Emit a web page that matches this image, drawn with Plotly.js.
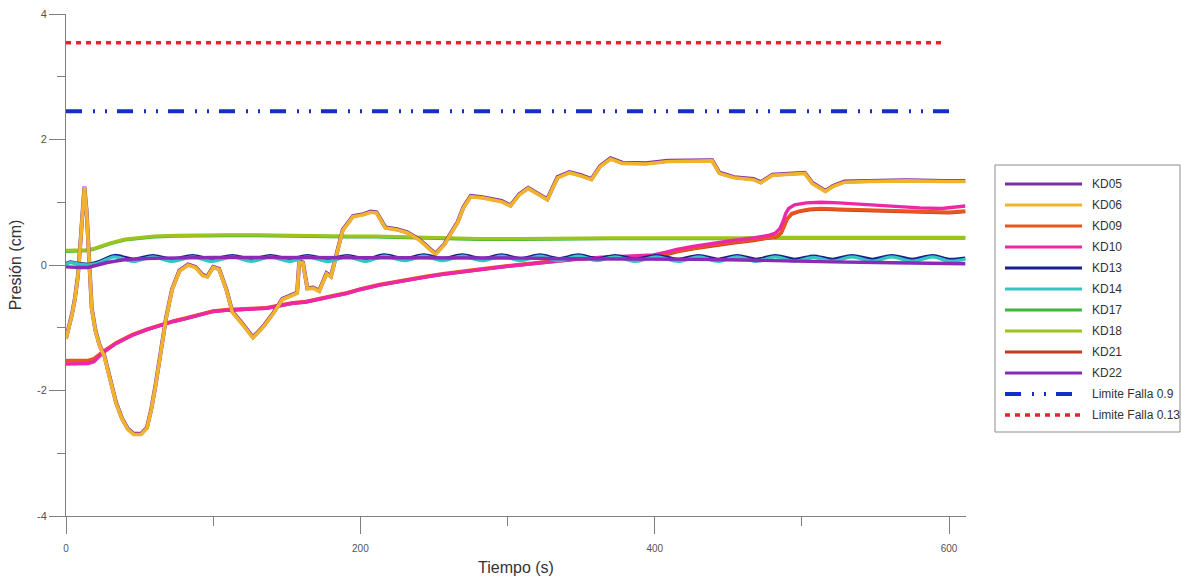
<!DOCTYPE html>
<html>
<head>
<meta charset="utf-8">
<script src="https://cdn.plot.ly/plotly-3.0.1.min.js"></script>
<style>
html,body{margin:0;padding:0;background:#fff;}
#chart{width:1182px;height:577px;}
</style>
</head>
<body>
<div id="chart"></div>
<script>
// ---------------- DATA ----------------
const seriesNames = ["KD05","KD06","KD09","KD10","KD13","KD14","KD17","KD18","KD21","KD22","Limite Falla 0.9","Limite Falla 0.13"];

// KD06 (and KD05, which runs just under it)
const t06 = [0,2,4,6,8,9.5,11,12.5,14,15.5,17.5,20,23,26,30,34,38,42,46,51,55,58,61,64,68,72,77,83,88,93,96,100,104,109,113,119,127,134,141,147,154,157,158.5,161,164,168,172,177,180,184,188,195,202,207,211,217,225,232,240,251,257,261,266,270,275,283,290,296,302,308,314,321,327,334,342,350,357,363,370,378,394,409,425,439,444,454,467,472,480,490,502,507,516,521,529,545,571,597,611];
const kd06 = [-1.18,-1.0,-0.8,-0.55,-0.2,0.25,0.85,1.24,0.85,0.2,-0.7,-1.05,-1.3,-1.45,-1.85,-2.2,-2.45,-2.62,-2.7,-2.7,-2.6,-2.3,-1.9,-1.47,-0.85,-0.4,-0.1,0.0,-0.04,-0.17,-0.19,-0.04,-0.07,-0.4,-0.75,-0.92,-1.16,-0.99,-0.77,-0.55,-0.48,-0.45,0.05,0.03,-0.38,-0.37,-0.42,-0.14,-0.19,0.2,0.55,0.77,0.8,0.84,0.83,0.59,0.56,0.51,0.4,0.17,0.32,0.48,0.67,0.91,1.09,1.07,1.04,1.01,0.94,1.12,1.22,1.12,1.04,1.39,1.47,1.42,1.36,1.57,1.69,1.62,1.61,1.65,1.66,1.66,1.46,1.39,1.36,1.31,1.43,1.45,1.46,1.3,1.17,1.25,1.32,1.33,1.34,1.33,1.33];
const kd05 = [-1.17,-0.99,-0.79,-0.54,-0.19,0.26,0.86,1.25,0.86,0.21,-0.69,-1.04,-1.29,-1.44,-1.84,-2.19,-2.44,-2.61,-2.69,-2.69,-2.59,-2.29,-1.89,-1.46,-0.84,-0.39,-0.09,0.01,-0.03,-0.16,-0.18,-0.03,-0.06,-0.39,-0.74,-0.91,-1.15,-0.98,-0.76,-0.54,-0.47,-0.44,0.06,0.04,-0.37,-0.36,-0.41,-0.13,-0.18,0.21,0.56,0.78,0.81,0.85,0.84,0.6,0.57,0.52,0.41,0.18,0.33,0.49,0.68,0.92,1.1,1.08,1.05,1.02,0.95,1.13,1.23,1.13,1.05,1.4,1.48,1.43,1.37,1.58,1.7,1.63,1.62,1.66,1.67,1.67,1.47,1.4,1.37,1.32,1.44,1.46,1.47,1.31,1.18,1.26,1.33,1.34,1.35,1.34,1.34];

// KD10 (pink)
const t10 = [0,8,15,19,25,34,45,55,64,73,82,91,100,110,118,127,136,145,154,163,172,181,191,200,213,222,232,245,256,268,279,290,300,312,324,335,345,355,363,375,387,399,407,415,427,440,453,467,477,482,485,487,489,491,495,503,513,525,545,565,580,595,605,611];
const kd10 = [-1.58,-1.58,-1.57,-1.54,-1.4,-1.25,-1.12,-1.03,-0.96,-0.9,-0.85,-0.79,-0.74,-0.72,-0.71,-0.7,-0.69,-0.65,-0.61,-0.59,-0.55,-0.5,-0.45,-0.39,-0.32,-0.28,-0.24,-0.19,-0.15,-0.11,-0.08,-0.05,-0.02,0.01,0.04,0.07,0.09,0.11,0.12,0.13,0.14,0.16,0.2,0.25,0.3,0.35,0.39,0.43,0.47,0.51,0.58,0.68,0.82,0.9,0.96,0.99,1.0,0.99,0.96,0.93,0.91,0.9,0.92,0.94];

// KD09 (orange) and KD21 (dark red, under it)
const t09 = [0,15,19,25,34,45,55,64,73,82,91,100,110,118,127,136,145,154,163,172,181,191,200,213,222,232,245,256,268,279,290,300,312,324,335,345,355,363,375,387,399,407,415,427,440,453,467,477,483,486,488,490,493,498,505,513,525,545,565,585,600,611];
const kd09 = [-1.52,-1.52,-1.49,-1.38,-1.24,-1.11,-1.02,-0.95,-0.89,-0.84,-0.78,-0.73,-0.71,-0.7,-0.69,-0.68,-0.64,-0.6,-0.58,-0.54,-0.49,-0.44,-0.38,-0.31,-0.27,-0.23,-0.18,-0.14,-0.1,-0.07,-0.04,-0.01,0.02,0.05,0.08,0.1,0.11,0.12,0.12,0.13,0.14,0.17,0.22,0.27,0.32,0.36,0.4,0.43,0.46,0.52,0.62,0.74,0.82,0.86,0.89,0.9,0.89,0.88,0.86,0.85,0.84,0.86];
const kd21 = [-1.53,-1.53,-1.5,-1.39,-1.25,-1.12,-1.03,-0.96,-0.9,-0.85,-0.79,-0.74,-0.72,-0.71,-0.7,-0.69,-0.65,-0.61,-0.59,-0.55,-0.5,-0.45,-0.39,-0.32,-0.28,-0.24,-0.19,-0.15,-0.11,-0.08,-0.05,-0.02,0.01,0.04,0.07,0.09,0.1,0.11,0.11,0.12,0.13,0.16,0.21,0.26,0.31,0.35,0.39,0.42,0.45,0.51,0.61,0.73,0.81,0.85,0.88,0.89,0.88,0.87,0.85,0.84,0.83,0.85];

// KD18 (yellow-green) and KD17 (green, under it)
const t18 = [0,8,15,20,30,40,50,60,75,90,110,130,150,170,190,210,230,250,280,310,340,370,400,430,445,460,480,500,530,560,590,611];
const kd18 = [0.23,0.23,0.24,0.27,0.35,0.41,0.44,0.46,0.47,0.48,0.48,0.48,0.47,0.47,0.46,0.46,0.45,0.43,0.42,0.42,0.43,0.43,0.43,0.43,0.42,0.43,0.44,0.44,0.44,0.44,0.44,0.44];
const kd17 = [0.22,0.22,0.23,0.26,0.34,0.4,0.43,0.45,0.46,0.47,0.47,0.47,0.46,0.46,0.45,0.45,0.44,0.42,0.41,0.41,0.42,0.42,0.42,0.42,0.41,0.42,0.43,0.43,0.43,0.43,0.43,0.43];

// KD13 (navy) and KD14 (cyan), oscillating near 0.1
const t13 = [0,3,7,15,22,33,46,59,72,86,99,113,126,139,152,164,178,191,204,216,230,243,256,269,283,296,309,322,335,348,361,373,387,401,416,430,443,456,469,482,495,508,521,534,548,561,575,589,600,611];
const kd13 = [0.02,0.05,0.03,0.01,0.05,0.15,0.09,0.15,0.09,0.15,0.09,0.15,0.09,0.15,0.09,0.15,0.09,0.15,0.09,0.16,0.1,0.16,0.1,0.16,0.1,0.16,0.1,0.16,0.1,0.16,0.1,0.15,0.09,0.15,0.09,0.15,0.09,0.15,0.09,0.15,0.09,0.14,0.09,0.15,0.09,0.15,0.09,0.15,0.09,0.11];
const kd14 = [0.01,0.04,0.02,0.0,0.03,0.13,0.06,0.13,0.06,0.13,0.06,0.13,0.06,0.13,0.06,0.13,0.06,0.13,0.06,0.14,0.07,0.14,0.07,0.14,0.07,0.14,0.07,0.14,0.07,0.14,0.07,0.13,0.06,0.13,0.06,0.13,0.06,0.13,0.06,0.13,0.06,0.12,0.06,0.13,0.06,0.13,0.06,0.13,0.06,0.09];

// KD22 (purple, near zero)
const t22 = [0,5,10,15,20,28,38,50,65,80,100,130,160,190,220,250,280,310,340,370,400,430,460,490,520,550,580,611];
const kd22 = [-0.03,-0.04,-0.04,-0.04,-0.01,0.04,0.08,0.1,0.11,0.12,0.12,0.12,0.12,0.12,0.12,0.11,0.11,0.11,0.1,0.1,0.1,0.09,0.08,0.06,0.05,0.04,0.03,0.02];

// Failure limits
const tLim09 = [0,601];
const lim09 = [2.45,2.45];
const tLim013 = [0,597];
const lim013 = [3.54,3.54];

// ---------------- STYLE ----------------
const colors = {
  KD05:"#7a2ea3", KD06:"#f2b32c", KD09:"#e8561e", KD10:"#ee27a8", KD13:"#17208e",
  KD14:"#34c5c0", KD17:"#3db83a", KD18:"#9cc31e", KD21:"#c23a1e", KD22:"#8a2bb8",
  "Limite Falla 0.9":"#1230c8", "Limite Falla 0.13":"#e0262a"
};
const dashes = {"Limite Falla 0.9":"16px,11px,2px,10px,2px,10px","Limite Falla 0.13":"5px,5px"};
const widths = {KD05:4.0, KD06:3.6, "Limite Falla 0.9":4, "Limite Falla 0.13":3.5};

const dataMap = {
  KD05:[t06,kd05], KD06:[t06,kd06], KD09:[t09,kd09], KD10:[t10,kd10], KD13:[t13,kd13],
  KD14:[t13,kd14], KD17:[t18,kd17], KD18:[t18,kd18], KD21:[t09,kd21], KD22:[t22,kd22],
  "Limite Falla 0.9":[tLim09,lim09], "Limite Falla 0.13":[tLim013,lim013]
};
const drawOrder = ["KD17","KD18","KD21","KD09","KD10","KD05","KD06","KD13","KD14","KD22","Limite Falla 0.9","Limite Falla 0.13"];
const waveNames = ["KD13","KD14"];

const traces = drawOrder.map(n => ({
  type:"scatter", mode:"lines", name:n,
  x:dataMap[n][0], y:dataMap[n][1],
  line:{color:colors[n], width:widths[n]||3.4, dash:dashes[n]||"solid",
        shape: waveNames.includes(n) ? "spline" : "linear", smoothing:0.8},
  showlegend:false, hoverinfo:"skip"
}));

// ---------------- LAYOUT ----------------
const L = 66, R = 966, T = 14, B = 516;
const px = x => (x - L) / (R - L);
const py = y => (B - y) / (B - T);

const shapes = [];
const annotations = [];
// legend box
shapes.push({type:"rect", xref:"paper", yref:"paper", x0:px(995), x1:px(1180), y0:py(432), y1:py(165),
  line:{color:"#8c8c8c", width:1}, fillcolor:"rgba(0,0,0,0)"});
seriesNames.forEach((n,i) => {
  const yy = 184 + 21*i;
  shapes.push({type:"line", xref:"paper", yref:"paper", x0:px(1005), x1:px(1082), y0:py(yy), y1:py(yy),
    line:{color:colors[n], width: n.startsWith("Limite") ? (widths[n]) : 3.2, dash:dashes[n]||"solid"}});
  annotations.push({xref:"paper", yref:"paper", x:px(1090), y:py(yy), text:n, showarrow:false,
    xanchor:"left", yanchor:"middle", font:{family:"Liberation Sans, Arial, sans-serif", size:12, color:"#333"}});
});

const layout = {
  width:1182, height:577,
  margin:{l:L, r:1182-R, t:T, b:577-B},
  paper_bgcolor:"#fff", plot_bgcolor:"#fff",
  showlegend:false,
  font:{family:"Liberation Sans, Arial, sans-serif", color:"#444"},
  xaxis:{
    range:[0,611.5], showgrid:false, zeroline:false,
    showline:true, linecolor:"#7f7f7f", linewidth:1,
    ticks:"outside", ticklen:17, tickcolor:"#7f7f7f", tickwidth:1,
    tickmode:"array", tickvals:[0,200,400,600], ticktext:["0","200","400","600"],
    minor:{tickmode:"array", tickvals:[100,300,500], ticks:"outside", ticklen:9, tickcolor:"#7f7f7f"},
    tickfont:{size:10, color:"#555"}, ticklabelstandoff:6,
    title:{text:"Tiempo (s)", font:{size:16, color:"#333"}, standoff:8}
  },
  yaxis:{
    range:[-4,4], showgrid:false, zeroline:false,
    showline:true, linecolor:"#7f7f7f", linewidth:1,
    ticks:"outside", ticklen:16, tickcolor:"#7f7f7f", tickwidth:1,
    tickmode:"array", tickvals:[-4,-2,0,2,4], ticktext:["-4","-2","0","2","4"],
    minor:{tickmode:"array", tickvals:[-3,-1,1,3], ticks:"outside", ticklen:8, tickcolor:"#7f7f7f"},
    tickfont:{size:11, color:"#555"},
    title:{text:"Presión (cm)", font:{size:16, color:"#333"}, standoff:11}
  },
  shapes:shapes,
  annotations:annotations
};

Plotly.newPlot("chart", traces, layout, {staticPlot:true, displayModeBar:false});
</script>
</body>
</html>
